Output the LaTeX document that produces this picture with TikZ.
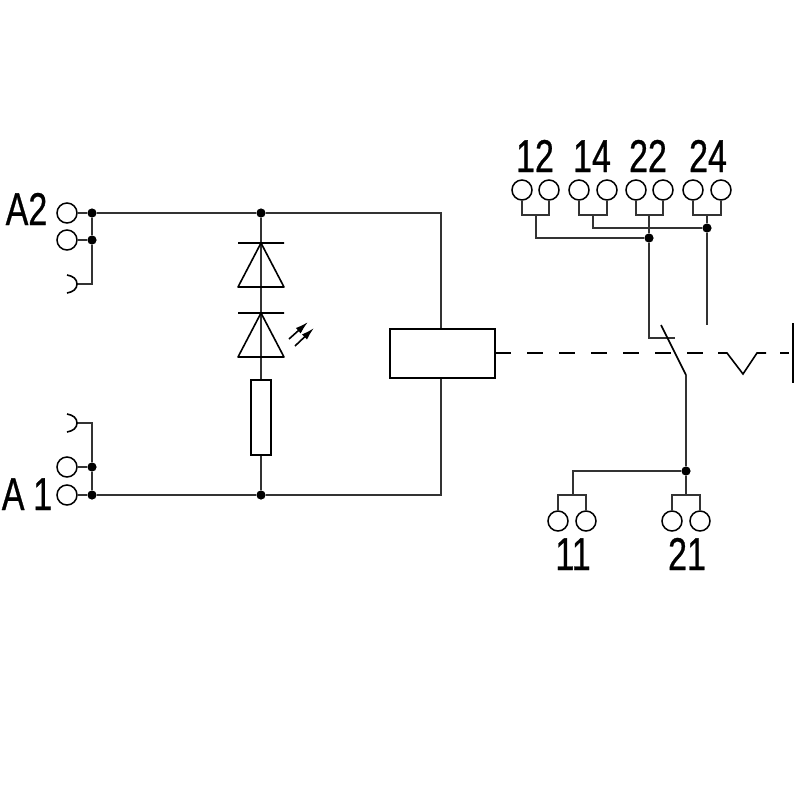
\documentclass[tikz,border=0pt]{standalone}
\usepackage{fontspec}
\setmainfont[FakeStretch=0.74,FakeBold=0.6]{Liberation Sans}
\usetikzlibrary{arrows.meta}
\begin{document}
\begin{tikzpicture}[x=0.5pt,y=-0.5pt,line join=miter,
  wire/.style={draw=black!80,line width=1pt},
  thin wire/.style={draw=black,line width=0.8pt},
  term/.style={circle,draw=black,line width=0.75pt,fill=white,minimum size=10pt,inner sep=0pt},
  junction/.style={circle,fill=black,minimum size=4.6pt,inner sep=0pt},
  lbl/.style={font=\fontsize{23}{23}\selectfont,anchor=base,inner sep=0pt},
  boxel/.style={draw=black,line width=0.9pt,fill=white,inner sep=0pt}]
\useasboundingbox (0,0) rectangle (800,800);
% left terminals
\node[term] (a2a) at (67,213) {};
\node[term] (a2b) at (67,240) {};
\node[term] (a1a) at (67,467) {};
\node[term] (a1b) at (67,495) {};
\node[junction] (ja2a) at (92,213) {};
\node[junction] (ja2b) at (92,240) {};
\node[junction] (ja1a) at (92,467) {};
\node[junction] (ja1b) at (92,495) {};
\node[junction] (jt) at (261,213) {};
\node[junction] (jb) at (261,495) {};
\coordinate (c2) at (77,284);
\coordinate (c1) at (77,423);
\node[lbl] (la2) at (26.5,225) {A2};
\node[lbl] (la1) at (27,510) {A\hspace{0.19em}1};
% coil, resistor
\node[boxel,minimum width=52.5pt,minimum height=24.5pt] (coil) at (442.5,353.5) {};
\node[boxel,minimum width=10pt,minimum height=37.5pt] (res) at (261,417.5) {};
% wires left
\draw[wire] (a2a) -- (ja2a) -- (jt) -| (coil.north -| 441,0);
\draw[wire] (a2b) -- (ja2b);
\draw[wire] (a1a) -- (ja1a);
\draw[wire] (a1b) -- (ja1b) -- (jb) -| (coil.south -| 441,0);
\draw[wire] (ja2a) -- (ja2b) -- (92,284) -- (c2);
\draw[wire] (ja1b) -- (ja1a) -- (92,423) -- (c1);
\draw[thin wire] (67,275) .. controls (73,276) and (77,279) .. (c2) .. controls (77,289) and (73,292) .. (67,293);
\draw[thin wire] (67,414) .. controls (73,415) and (77,418) .. (c1) .. controls (77,428) and (73,431) .. (67,432);
% rung
\draw[wire] (jt) -- (res.north);
\draw[wire] (res.south) -- (jb);
\draw[thin wire,line join=round] (238,243) -- (284,243) (261,243) -- (284,287) -- (238,287) -- cycle;
\draw[thin wire,line join=round] (238,313) -- (284,313) (261,313) -- (284,357) -- (238,357) -- cycle;
\draw[thin wire,-{Latex[length=6.5pt,width=3.6pt]}] (289,339) -- (308,322);
\draw[thin wire,-{Latex[length=6.5pt,width=3.6pt]}] (295,346) -- (314,328);
% top terminals
\foreach \n/\x in {t1/522,t2/549,t3/579,t4/607,t5/636,t6/663,t7/693,t8/721}
  \node[term] (\n) at (\x,190) {};
\node[lbl] (l12) at (535,172) {12};
\node[lbl] (l14) at (592,172) {14};
\node[lbl] (l22) at (648,172) {22};
\node[lbl] (l24) at (708,172) {24};
\node[junction] (j22) at (649,238) {};
\node[junction] (j24) at (707,228) {};
\draw[wire] (t1) -- (522,215) -- (549,215) -- (t2);
\draw[wire] (t3) -- (579,215) -- (607,215) -- (t4);
\draw[wire] (t5) -- (636,215) -- (663,215) -- (t6);
\draw[wire] (t7) -- (693,215) -- (721,215) -- (t8);
\draw[wire] (536,215) |- (j22);
\draw[wire] (593,215) |- (j24);
\coordinate (nc) at (649,338);
\coordinate (no) at (707,325);
\draw[wire] (649,215) -- (j22) -- (nc) -- (675,338);
\draw[wire] (707,215) -- (j24) -- (no);
% contact
\coordinate (blade) at (661,325);
\coordinate (pivot) at (686,375);
\node[junction] (jc) at (686,471) {};
\draw[thin wire] (blade) -- (pivot);
\draw[wire] (pivot) -- (jc);
% dashed linkage
\foreach \a/\b in {495/511,527/543,559/575,591/607,623/639,655/671,687/703,780/789}
  \draw[thin wire] (\a,353) -- (\b,353);
\draw[thin wire] (718,353) -- (727,353) -- (743,374) -- (757,353) -- (766,353);
\draw[thin wire] (793,323) -- (793,383);
% bottom terminals
\foreach \n/\x in {b1/558,b2/586,b3/672,b4/700}
  \node[term] (\n) at (\x,521) {};
\node[lbl] (l11) at (573,570) {11};
\node[lbl] (l21) at (687,570) {21};
\draw[wire] (b1) -- (558,495) -- (586,495) -- (b2);
\draw[wire] (b3) -- (672,495) -- (700,495) -- (b4);
\draw[wire] (jc) -- (686,495);
\draw[wire] (jc) -- (573,471) -- (573,495);
\end{tikzpicture}
\end{document}
